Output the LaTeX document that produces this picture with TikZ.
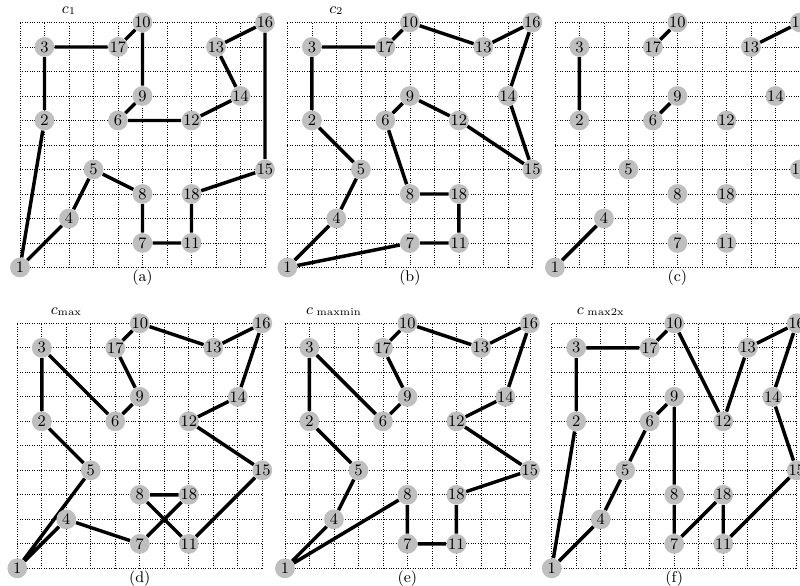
\documentclass[tikz,border=0pt]{standalone}
\pgfdeclarelayer{bg}
\pgfsetlayers{bg,main}
\tikzset{
  vtx/.style={circle,fill=black!25,inner sep=0pt,minimum size=11.5pt,font=\fontsize{9.3}{10}\selectfont},
  tourline/.style={line width=2pt},
  gridline/.style={densely dotted,line width=0.4pt},
  ttl/.style={font=\fontsize{9}{10}\selectfont},
  sublbl/.style={font=\fontsize{9}{10}\selectfont}
}
\newcommand\drawpanel[5]{%
 \begin{scope}[shift={(#2,#3)}]
  \begin{pgfonlayer}{bg}
  \draw[gridline,step=0.5cm] (0,0) grid (10,10);
  \end{pgfonlayer}
  \foreach \n/\px/\py in {1/0/0,2/1/6,3/1/9,4/2/2,5/3/4,6/4/6,7/5/1,8/5/3,9/5/7,10/5/10,11/7/1,12/7/6,13/8/9,14/9/7,15/10/4,16/10/10,17/4/9,18/7/3}
    \node[vtx] (#1\n) at (\px,\py) {\n};
  \node[ttl] (#1title) at (2,10.48) {#4};
  \node[sublbl] (#1sub) at (5,-0.42) {#5};
 \end{scope}}
\begin{document}
\begin{tikzpicture}[x=0.5cm,y=0.5cm]
\useasboundingbox (0,0) rectangle (32.653,23.918);
\drawpanel{a}{0.816}{13.0}{$c_1$}{(a)}
\drawpanel{b}{11.73}{13.0}{$c_2$}{(b)}
\drawpanel{c}{22.65}{13.0}{}{(c)}
\drawpanel{d}{0.706}{0.72}{$c_{\max}$}{(d)}
\drawpanel{e}{11.63}{0.72}{$c_{\;\mathrm{maxmin}}$}{(e)}
\drawpanel{f}{22.52}{0.72}{$c_{\;\mathrm{max2x}}$}{(f)}
\begin{pgfonlayer}{bg}
\draw[tourline] (a1)--(a2)--(a3)--(a17)--(a10)--(a9)--(a6)--(a12)--(a14)--(a13)--(a16)--(a15)--(a18)--(a11)--(a7)--(a8)--(a5)--(a4)--(a1);
\draw[tourline] (b1)--(b4)--(b5)--(b2)--(b3)--(b17)--(b10)--(b13)--(b16)--(b14)--(b15)--(b12)--(b9)--(b6)--(b8)--(b18)--(b11)--(b7)--(b1);
\draw[tourline] (c1)--(c4) (c2)--(c3) (c6)--(c9) (c17)--(c10) (c13)--(c16);
\draw[tourline] (d1)--(d5)--(d2)--(d3)--(d6)--(d9)--(d17)--(d10)--(d13)--(d16)--(d14)--(d12)--(d15)--(d11)--(d8)--(d18)--(d7)--(d4)--(d1);
\draw[tourline] (e1)--(e4)--(e5)--(e2)--(e3)--(e6)--(e9)--(e17)--(e10)--(e13)--(e16)--(e14)--(e12)--(e15)--(e18)--(e11)--(e7)--(e8)--(e1);
\draw[tourline] (f1)--(f2)--(f3)--(f17)--(f10)--(f12)--(f13)--(f16)--(f14)--(f15)--(f11)--(f18)--(f7)--(f8)--(f9)--(f6)--(f5)--(f4)--(f1);
\end{pgfonlayer}
\end{tikzpicture}
\end{document}
